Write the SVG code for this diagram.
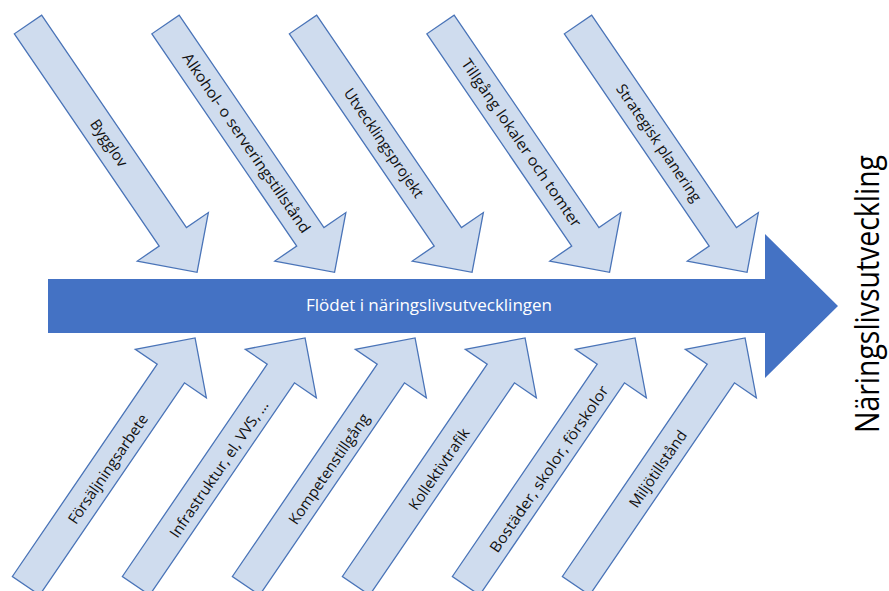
<svg xmlns="http://www.w3.org/2000/svg" xmlns:xlink="http://www.w3.org/1999/xlink" width="889" height="591" viewBox="0 0 889 591">
<style>
.sa{fill:#cfdcee;stroke:#4a74b8;stroke-width:1.3;stroke-linejoin:miter}
.lbl{font-family:"Open Sans","Noto Sans",sans-serif;font-size:15px;fill:#111;text-anchor:middle}
.main{fill:#4472c4}
.mt{font-family:"Open Sans","Noto Sans",sans-serif;font-size:16px;fill:#fff;text-anchor:middle}
.title{font-family:"Open Sans","Noto Sans",sans-serif;font-size:32px;fill:#000;text-anchor:middle}
</style>
<defs>
<polygon id="arr" points="0,-16.5 257,-16.5 257,-43 300,0 257,43 257,16.5 0,16.5"/>
</defs>
<rect width="889" height="591" fill="#fff"/>
<g id="connectors">
<g id="main-arrow">
<polygon class="main" points="48,279 765,279 765,234 838,306 765,378 765,333 48,333"/>
<text class="mt" x="429" y="311" textLength="246" lengthAdjust="spacingAndGlyphs">Flödet i näringslivsutvecklingen</text>
</g>
</g>
<g id="top-bygglov">
<use href="#arr" class="sa" transform="translate(28,24.5) rotate(55.7)"/>
<text class="lbl" transform="translate(108.9,143) rotate(55.7)" dy="0.35em">Bygglov</text>
</g>
<g id="top-alkohol">
<use href="#arr" class="sa" transform="translate(165.5,24.5) rotate(55.7)"/>
<text class="lbl" transform="translate(246.4,143) rotate(55.7)" dy="0.35em" textLength="214" lengthAdjust="spacingAndGlyphs">Alkohol- o serveringstillstånd</text>
</g>
<g id="top-utveckling">
<use href="#arr" class="sa" transform="translate(303,24.5) rotate(55.7)"/>
<text class="lbl" transform="translate(383.9,143) rotate(55.7)" dy="0.35em">Utvecklingsprojekt</text>
</g>
<g id="top-tillgang">
<use href="#arr" class="sa" transform="translate(440.5,24.5) rotate(55.7)"/>
<text class="lbl" transform="translate(521.4,143) rotate(55.7)" dy="0.35em" textLength="200" lengthAdjust="spacingAndGlyphs">Tillgång lokaler och tomter</text>
</g>
<g id="top-strategisk">
<use href="#arr" class="sa" transform="translate(578,24.5) rotate(55.7)"/>
<text class="lbl" transform="translate(658.9,143) rotate(55.7)" dy="0.35em">Strategisk planering</text>
</g>
<g id="bot-forsaljning">
<use href="#arr" class="sa" transform="translate(26,585.8) rotate(-55.7)"/>
<text class="lbl" transform="translate(108,469) rotate(-55.7)" dy="0.35em">Försäljningsarbete</text>
</g>
<g id="bot-infrastruktur">
<use href="#arr" class="sa" transform="translate(136,585.8) rotate(-55.7)"/>
<text class="lbl" transform="translate(219,469) rotate(-55.7)" dy="0.35em">Infrastruktur, el, VVS, …</text>
</g>
<g id="bot-kompetens">
<use href="#arr" class="sa" transform="translate(246,585.8) rotate(-55.7)"/>
<text class="lbl" transform="translate(329,469) rotate(-55.7)" dy="0.35em">Kompetenstillgång</text>
</g>
<g id="bot-kollektiv">
<use href="#arr" class="sa" transform="translate(356,585.8) rotate(-55.7)"/>
<text class="lbl" transform="translate(439,469) rotate(-55.7)" dy="0.35em">Kollektivtrafik</text>
</g>
<g id="bot-bostader">
<use href="#arr" class="sa" transform="translate(466,585.8) rotate(-55.7)"/>
<text class="lbl" transform="translate(549,469) rotate(-55.7)" dy="0.35em" textLength="198" lengthAdjust="spacingAndGlyphs">Bostäder, skolor, förskolor</text>
</g>
<g id="bot-miljo">
<use href="#arr" class="sa" transform="translate(576,585.8) rotate(-55.7)"/>
<text class="lbl" transform="translate(658,469) rotate(-55.7)" dy="0.35em">Miljötillstånd</text>
</g>
<g id="result">
<text class="title" transform="translate(879,294) rotate(-90)" textLength="278" lengthAdjust="spacingAndGlyphs">Näringslivsutveckling</text>
</g>
</svg>
